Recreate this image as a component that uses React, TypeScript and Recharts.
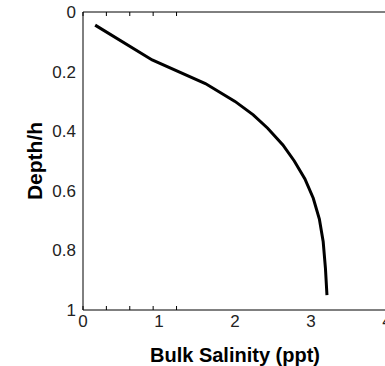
import React from 'react';
import { LineChart, Line, XAxis, YAxis } from 'recharts';

// bulk salinity (ppt), top to bottom
const salinity = [0.16, 0.91, 1.61, 2.0, 2.24, 2.43, 2.63, 2.78, 2.92, 3.03, 3.11, 3.16, 3.19, 3.21];
// normalised depth for each salinity point
const depth = [0.044, 0.161, 0.24, 0.3, 0.345, 0.39, 0.446, 0.5, 0.56, 0.625, 0.695, 0.77, 0.86, 0.95];

const xTicks = [0, 1, 2, 3, 4];
const yTicks = [0, 0.2, 0.4, 0.6, 0.8, 1];

const data = salinity.map((s, i) => ({ salinity: s, depth: depth[i] }));

const font = 'Arial, "Liberation Sans", Helvetica, sans-serif';
const tickStyle = { fill: '#222', fontSize: 17, fontFamily: font };
const blank = () => '';

export default function App() {
  return (
    <div style={{ position: 'fixed', left: 0, top: 0, width: 385, height: 366, overflow: 'hidden', background: '#fff' }}>
      <LineChart width={400} height={366} data={data} margin={{ top: 12, right: 13, left: 0, bottom: 0 }}>
        <XAxis
          xAxisId="b"
          type="number"
          dataKey="salinity"
          domain={[0, 4]}
          ticks={xTicks}
          height={56}
          tickLine={false}
          axisLine={{ stroke: '#000' }}
          tick={tickStyle}
          tickMargin={-1}
          label={{ value: 'Bulk Salinity (ppt)', position: 'insideBottom', offset: 4, style: { fontSize: 20, fontWeight: 'bold', fontFamily: font, fill: '#000' } }}
        />
        <XAxis xAxisId="t" type="number" orientation="top" mirror domain={[0, 4]} ticks={xTicks} tickSize={4} tickFormatter={blank} axisLine={{ stroke: '#000' }} tickLine={{ stroke: '#000' }} />
        <XAxis xAxisId="bi" type="number" orientation="bottom" mirror domain={[0, 4]} ticks={xTicks} tickSize={4} tickFormatter={blank} axisLine={false} tickLine={{ stroke: '#000' }} />
        <YAxis
          yAxisId="l"
          type="number"
          dataKey="depth"
          reversed
          domain={[0, 1]}
          ticks={yTicks}
          width={83}
          tickLine={false}
          axisLine={{ stroke: '#000' }}
          tick={tickStyle}
          tickMargin={1}
          label={{ value: 'Depth/h', angle: -90, position: 'insideLeft', offset: 35, style: { textAnchor: 'middle', fontSize: 21, fontWeight: 'bold', fontFamily: font, fill: '#000' } }}
        />
        <YAxis yAxisId="r" type="number" orientation="right" mirror reversed domain={[0, 1]} ticks={yTicks} tickSize={4} tickFormatter={blank} axisLine={{ stroke: '#000' }} tickLine={{ stroke: '#000' }} />
        <YAxis yAxisId="li" type="number" orientation="left" mirror reversed domain={[0, 1]} ticks={yTicks} tickSize={4} tickFormatter={blank} axisLine={false} tickLine={{ stroke: '#000' }} />
        <Line
          xAxisId="b"
          yAxisId="l"
          type="linear"
          dataKey="depth"
          stroke="#000"
          strokeWidth={3}
          dot={false}
          isAnimationActive={false}
        />
      </LineChart>
    </div>
  );
}
